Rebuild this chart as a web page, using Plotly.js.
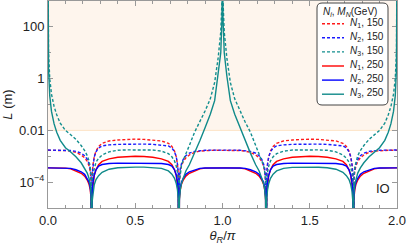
<!DOCTYPE html>
<html>
<head>
<meta charset="utf-8">
<script src="https://cdn.plot.ly/plotly-3.0.1.min.js"></script>
<style>html,body{margin:0;padding:0;background:#fff;}#chart{width:407px;height:246px;}</style>
</head>
<body>
<div id="chart"></div>
<script>
// theta_R / pi
const theta = [0,0.003,0.01,0.02,0.035,0.05,0.07,0.1,0.13,0.16,0.19,0.21,0.225,0.235,0.242,0.247,0.25,0.253,0.258,0.265,0.275,0.29,0.31,0.35,0.4,0.45,0.5,0.55,0.6,0.65,0.69,0.71,0.725,0.735,0.742,0.747,0.75,0.753,0.758,0.765,0.775,0.79,0.81,0.84,0.87,0.9,0.93,0.955,0.975,0.99,0.997,1,
1.003,1.01,1.025,1.045,1.07,1.1,1.13,1.16,1.19,1.21,1.225,1.235,1.242,1.247,1.25,1.253,1.258,1.265,1.275,1.29,1.31,1.35,1.4,1.45,1.5,1.55,1.6,1.65,1.69,1.71,1.725,1.735,1.742,1.747,1.75,1.753,1.758,1.765,1.775,1.79,1.81,1.84,1.87,1.9,1.93,1.95,1.965,1.98,1.99,1.997,2];

// L (m), M_N = 150 GeV
const n1_150 = [1.70e-3,1.70e-3,1.70e-3,1.70e-3,1.70e-3,1.70e-3,1.68e-3,1.66e-3,1.58e-3,1.41e-3,1.12e-3,8.7e-4,6.3e-4,4.3e-4,2.6e-4,1.12e-4,1e-9,1.78e-4,4.8e-4,9.5e-4,1.58e-3,2.4e-3,3.16e-3,3.9e-3,4.27e-3,4.47e-3,4.57e-3,4.47e-3,4.27e-3,3.9e-3,3.16e-3,2.4e-3,1.58e-3,9.5e-4,4.8e-4,1.78e-4,1e-9,1.12e-4,2.6e-4,4.3e-4,6.3e-4,8.7e-4,1.12e-3,1.41e-3,1.58e-3,1.66e-3,1.68e-3,1.70e-3,1.70e-3,1.70e-3,1.70e-3,1.70e-3,
1.70e-3,1.70e-3,1.70e-3,1.70e-3,1.68e-3,1.66e-3,1.58e-3,1.41e-3,1.12e-3,8.7e-4,6.3e-4,4.3e-4,2.6e-4,1.12e-4,1e-9,1.78e-4,4.8e-4,9.5e-4,1.58e-3,2.4e-3,3.16e-3,3.9e-3,4.27e-3,4.47e-3,4.57e-3,4.47e-3,4.27e-3,3.9e-3,3.16e-3,2.4e-3,1.58e-3,9.5e-4,4.8e-4,1.78e-4,1e-9,1.12e-4,2.6e-4,4.3e-4,6.3e-4,8.7e-4,1.12e-3,1.41e-3,1.58e-3,1.66e-3,1.68e-3,1.70e-3,1.70e-3,1.70e-3,1.70e-3,1.70e-3,1.70e-3];
const n2_150 = [1.74e-3,1.74e-3,1.74e-3,1.74e-3,1.74e-3,1.74e-3,1.72e-3,1.70e-3,1.66e-3,1.55e-3,1.32e-3,1.05e-3,7.6e-4,5.2e-4,3.3e-4,1.41e-4,1e-9,2.0e-4,5.0e-4,9.5e-4,1.48e-3,2.09e-3,2.51e-3,2.75e-3,2.88e-3,2.95e-3,2.95e-3,2.95e-3,2.88e-3,2.75e-3,2.51e-3,2.09e-3,1.48e-3,9.5e-4,5.0e-4,2.0e-4,1e-9,1.41e-4,3.3e-4,5.2e-4,7.6e-4,1.05e-3,1.32e-3,1.55e-3,1.66e-3,1.70e-3,1.72e-3,1.74e-3,1.74e-3,1.74e-3,1.74e-3,1.74e-3,
1.74e-3,1.74e-3,1.74e-3,1.74e-3,1.72e-3,1.70e-3,1.66e-3,1.55e-3,1.32e-3,1.05e-3,7.6e-4,5.2e-4,3.3e-4,1.41e-4,1e-9,2.0e-4,5.0e-4,9.5e-4,1.48e-3,2.09e-3,2.51e-3,2.75e-3,2.88e-3,2.95e-3,2.95e-3,2.95e-3,2.88e-3,2.75e-3,2.51e-3,2.09e-3,1.48e-3,9.5e-4,5.0e-4,2.0e-4,1e-9,1.41e-4,3.3e-4,5.2e-4,7.6e-4,1.05e-3,1.32e-3,1.55e-3,1.66e-3,1.70e-3,1.72e-3,1.74e-3,1.74e-3,1.74e-3,1.74e-3,1.74e-3,1.74e-3];
const n3_150 = [1e5,11.2,1.0,0.25,0.083,0.04,0.019,0.01,6.8e-3,4.5e-3,2.6e-3,1.66e-3,1.05e-3,6.6e-4,3.8e-4,1.58e-4,1e-9,8.3e-5,2.1e-4,3.7e-4,5.9e-4,8.3e-4,1.12e-3,1.48e-3,1.7e-3,1.76e-3,1.78e-3,1.78e-3,1.74e-3,1.58e-3,1.26e-3,9.5e-4,6.6e-4,4.2e-4,2.34e-4,1.0e-4,1e-9,1.0e-4,2.51e-4,4.5e-4,7.1e-4,1.32e-3,2.6e-3,8.5e-3,0.021,0.056,0.165,0.71,6.3,63,1000,1e5,
1000,63,6.3,0.71,0.165,0.056,0.021,8.5e-3,2.6e-3,1.32e-3,7.1e-4,4.5e-4,2.51e-4,1.0e-4,1e-9,1.0e-4,2.34e-4,4.2e-4,6.6e-4,9.5e-4,1.26e-3,1.58e-3,1.74e-3,1.78e-3,1.78e-3,1.76e-3,1.7e-3,1.48e-3,1.12e-3,8.3e-4,5.9e-4,3.7e-4,2.1e-4,8.3e-5,1e-9,1.58e-4,3.8e-4,6.6e-4,1.05e-3,1.66e-3,2.6e-3,4.5e-3,6.8e-3,0.01,0.019,0.04,0.083,0.25,1.0,11.2,1e5];

// L (m), M_N = 250 GeV
const n1_250 = [3.55e-4,3.55e-4,3.55e-4,3.55e-4,3.55e-4,3.55e-4,3.55e-4,3.47e-4,3.24e-4,2.75e-4,2.19e-4,1.7e-4,1.2e-4,8.3e-5,5.0e-5,2.24e-5,1e-9,3.55e-5,8.9e-5,1.78e-4,3.0e-4,4.7e-4,6.3e-4,7.9e-4,9.1e-4,9.8e-4,1.0e-3,9.8e-4,9.1e-4,7.9e-4,6.3e-4,4.7e-4,3.0e-4,1.78e-4,8.9e-5,3.55e-5,1e-9,2.24e-5,5.0e-5,8.3e-5,1.2e-4,1.7e-4,2.19e-4,2.75e-4,3.24e-4,3.47e-4,3.55e-4,3.55e-4,3.55e-4,3.55e-4,3.55e-4,3.55e-4,
3.55e-4,3.55e-4,3.55e-4,3.55e-4,3.55e-4,3.47e-4,3.24e-4,2.75e-4,2.19e-4,1.7e-4,1.2e-4,8.3e-5,5.0e-5,2.24e-5,1e-9,3.55e-5,8.9e-5,1.78e-4,3.0e-4,4.7e-4,6.3e-4,7.9e-4,9.1e-4,9.8e-4,1.0e-3,9.8e-4,9.1e-4,7.9e-4,6.3e-4,4.7e-4,3.0e-4,1.78e-4,8.9e-5,3.55e-5,1e-9,2.24e-5,5.0e-5,8.3e-5,1.2e-4,1.7e-4,2.19e-4,2.75e-4,3.24e-4,3.47e-4,3.55e-4,3.55e-4,3.55e-4,3.55e-4,3.55e-4,3.55e-4,3.55e-4];
const n2_250 = [3.55e-4,3.55e-4,3.55e-4,3.55e-4,3.55e-4,3.55e-4,3.55e-4,3.5e-4,3.4e-4,3.0e-4,2.51e-4,2.0e-4,1.41e-4,1.0e-4,6.3e-5,2.8e-5,1e-9,4.0e-5,1.0e-4,1.9e-4,3.0e-4,4.2e-4,4.8e-4,5.25e-4,5.4e-4,5.4e-4,5.4e-4,5.4e-4,5.4e-4,5.25e-4,4.8e-4,4.2e-4,3.0e-4,1.9e-4,1.0e-4,4.0e-5,1e-9,2.8e-5,6.3e-5,1.0e-4,1.41e-4,2.0e-4,2.51e-4,3.0e-4,3.4e-4,3.5e-4,3.55e-4,3.55e-4,3.55e-4,3.55e-4,3.55e-4,3.55e-4,
3.55e-4,3.55e-4,3.55e-4,3.55e-4,3.55e-4,3.5e-4,3.4e-4,3.0e-4,2.51e-4,2.0e-4,1.41e-4,1.0e-4,6.3e-5,2.8e-5,1e-9,4.0e-5,1.0e-4,1.9e-4,3.0e-4,4.2e-4,4.8e-4,5.25e-4,5.4e-4,5.4e-4,5.4e-4,5.4e-4,5.4e-4,5.25e-4,4.8e-4,4.2e-4,3.0e-4,1.9e-4,1.0e-4,4.0e-5,1e-9,2.8e-5,6.3e-5,1.0e-4,1.41e-4,2.0e-4,2.51e-4,3.0e-4,3.4e-4,3.5e-4,3.55e-4,3.55e-4,3.55e-4,3.55e-4,3.55e-4,3.55e-4,3.55e-4];
const n3_250 = [1e5,2.4,0.214,0.054,0.0178,8.5e-3,4.1e-3,2.14e-3,1.45e-3,9.5e-4,5.6e-4,3.55e-4,2.24e-4,1.41e-4,8.1e-5,3.4e-5,1e-9,1.78e-5,4.5e-5,7.9e-5,1.26e-4,1.78e-4,2.4e-4,3.16e-4,3.6e-4,3.76e-4,3.8e-4,3.8e-4,3.7e-4,3.4e-4,2.7e-4,2.04e-4,1.41e-4,8.9e-5,5.0e-5,2.14e-5,1e-9,2.0e-5,5.0e-5,8.9e-5,1.41e-4,2.7e-4,4.7e-4,1.32e-3,4.0e-3,0.0126,0.042,0.141,1.26,10,200,1e5,
200,10,1.26,0.141,0.042,0.0126,4.0e-3,1.32e-3,4.7e-4,2.7e-4,1.41e-4,8.9e-5,5.0e-5,2.0e-5,1e-9,2.14e-5,5.0e-5,8.9e-5,1.41e-4,2.04e-4,2.7e-4,3.4e-4,3.7e-4,3.8e-4,3.8e-4,3.76e-4,3.6e-4,3.16e-4,2.4e-4,1.78e-4,1.26e-4,7.9e-5,4.5e-5,1.78e-5,1e-9,3.4e-5,8.1e-5,1.41e-4,2.24e-4,3.55e-4,5.6e-4,9.5e-4,1.45e-3,2.14e-3,4.1e-3,8.5e-3,0.0178,0.054,0.214,2.4,1e5];

const seriesNames = ['<i>N</i><sub>1</sub>, 150','<i>N</i><sub>2</sub>, 150','<i>N</i><sub>3</sub>, 150','<i>N</i><sub>1</sub>, 250','<i>N</i><sub>2</sub>, 250','<i>N</i><sub>3</sub>, 250'];
const seriesData = [n1_150, n2_150, n3_150, n1_250, n2_250, n3_250];
const seriesColors = ['#ff1a1a','#1a1aff','#138f8f','#ff0000','#0000ff','#108a8a'];
const seriesDash = ['3px,2px','3px,2px','3px,2px','solid','solid','solid'];
const legendTitle = '<i>N</i><sub><i>i</i></sub>, <i>M</i><sub><i>N</i></sub>(GeV)';

const FONT = 'Liberation Sans, Arial, Helvetica, sans-serif';
const W = 407, H = 246, ML = 48, MR = 10, MT = 1, MB = 38;
const PW = W - ML - MR, PH = H - MT - MB;
const px2paperX = px => (px - ML) / PW;
const px2paperY = py => 1 - (py - MT) / PH;

const traces = seriesData.map((d, i) => ({
  type: 'scatter', mode: 'lines', x: theta, y: d, name: seriesNames[i],
  line: {color: seriesColors[i], width: 1.4, dash: seriesDash[i]},
  hoverinfo: 'skip', showlegend: false
}));

const yShade = (Math.log10(0.01) + 5) / 8;

// hand-built legend (rounded box, short samples)
const legRowsPx = [23.7, 37.8, 51.9, 66.0, 80.1, 94.2];
const legShapes = seriesNames.map((n, i) => ({
  type: 'line', xref: 'paper', yref: 'paper',
  x0: px2paperX(322), x1: px2paperX(344), y0: px2paperY(legRowsPx[i]), y1: px2paperY(legRowsPx[i]),
  line: {color: seriesColors[i], width: 1.4, dash: seriesDash[i]}, layer: 'above'
}));
const legAnn = seriesNames.map((n, i) => ({
  text: n, xref: 'paper', yref: 'paper', x: px2paperX(349), y: px2paperY(legRowsPx[i] - 1),
  xanchor: 'left', yanchor: 'middle', showarrow: false, borderpad: 0,
  font: {family: FONT, size: 10, color: '#222'}
}));

const layout = {
  width: W, height: H,
  margin: {l: ML, r: MR, t: MT, b: MB},
  paper_bgcolor: '#ffffff', plot_bgcolor: '#ffffff',
  font: {family: FONT, size: 13, color: '#222'},
  showlegend: false,
  xaxis: {
    range: [0, 2], showline: true, linecolor: '#999', linewidth: 1, mirror: 'allticks',
    ticks: 'inside', ticklen: 5, tickcolor: '#999', layer: 'below traces',
    tickvals: [0, 0.5, 1, 1.5, 2], ticktext: ['0.0', '0.5', '1.0', '1.5', '2.0'],
    minor: {dtick: 0.1, ticklen: 3, ticks: 'inside', tickcolor: '#999'},
    showgrid: false, zeroline: false,
    tickfont: {size: 13, color: '#222'},
    title: {text: '<i>θ</i><sub><i>R</i></sub>/<i>π</i>', font: {size: 13, color: '#222'}, standoff: 4}
  },
  yaxis: {
    type: 'log', range: [-5, 3], showline: true, linecolor: '#999', linewidth: 1, mirror: 'allticks',
    ticks: 'inside', ticklen: 5, tickcolor: '#999', layer: 'below traces',
    tickvals: [1e-4, 0.01, 1, 100], ticktext: ['10<sup>−4</sup>', '0.01', '1', '100'],
    minor: {tickvals: [1e-5, 1e-3, 0.1, 10, 1000], ticklen: 3, ticks: 'inside', tickcolor: '#999'},
    showgrid: false, zeroline: false,
    tickfont: {size: 13, color: '#222'},
    title: {text: '<i>L</i> (m)', font: {size: 13, color: '#222'}, standoff: 3}
  },
  shapes: [
    {type: 'rect', xref: 'paper', yref: 'paper', x0: 0, x1: 1, y0: yShade, y1: 1,
     fillcolor: '#fef5ed', line: {width: 0}, layer: 'below'},
    {type: 'line', xref: 'paper', yref: 'paper', x0: 0, x1: 1, y0: yShade, y1: yShade,
     line: {color: '#fde3c6', width: 1}, layer: 'below'},
    {type: 'path', xref: 'paper', yref: 'paper', xsizemode: 'pixel', ysizemode: 'pixel',
     xanchor: 1, yanchor: 1,
     path: 'M -75,-2 L -14,-2 Q -9,-2 -9,-7 L -9,-99 Q -9,-104 -14,-104 L -75,-104 Q -80,-104 -80,-99 L -80,-7 Q -80,-2 -75,-2 Z',
     fillcolor: '#ffffff', line: {color: '#444', width: 1}, layer: 'above'}
  ].concat(legShapes),
  annotations: [
    {text: legendTitle, xref: 'paper', yref: 'paper', x: px2paperX(350), y: px2paperY(12),
     xanchor: 'center', yanchor: 'middle', showarrow: false, borderpad: 0,
     font: {family: FONT, size: 10, color: '#222'}},
    {text: 'IO', xref: 'paper', yref: 'paper', x: 0.985, y: 0.05, xanchor: 'right', yanchor: 'bottom',
     showarrow: false, font: {family: FONT, size: 13, color: '#222'}}
  ].concat(legAnn)
};

Plotly.newPlot('chart', traces, layout, {staticPlot: true, displayModeBar: false});
</script>
</body>
</html>
